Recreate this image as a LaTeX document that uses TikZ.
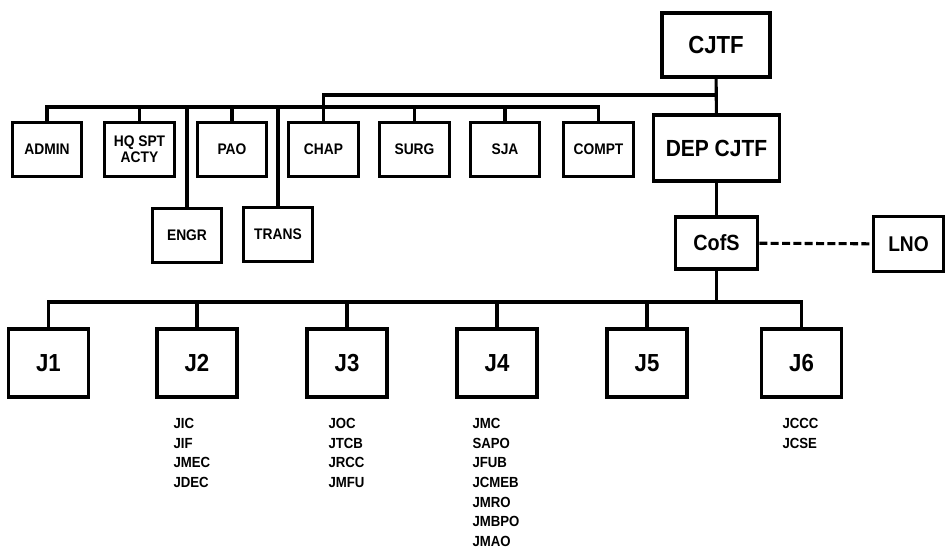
\documentclass[tikz,border=0pt]{standalone}
\usepackage{fontspec}
\setmainfont[FakeStretch=0.9]{Liberation Sans}
\usetikzlibrary{positioning}

\begin{document}
\begin{tikzpicture}[x=0.75pt,y=-0.75pt,line width=2.3pt,
  staffbox/.style={draw,inner sep=0pt,minimum width=52pt,minimum height=41pt,font=\fontsize{11.5}{12}\selectfont\bfseries,align=center},
  jbox/.style={draw,inner sep=0pt,minimum width=60pt,minimum height=51pt,font=\fontsize{18.5}{20}\selectfont\bfseries},
  jlist/.style={anchor=north west,inner sep=0pt,align=left,font=\fontsize{11}{14.7}\selectfont\bfseries}]
\useasboundingbox (0,0) rectangle (948,550);
% command group
\node[draw,inner sep=0pt,minimum width=81pt,minimum height=48pt,font=\fontsize{18.5}{20}\selectfont\bfseries] (cjtf) at (716,45) {CJTF};
\node[draw,inner sep=0pt,minimum width=95pt,minimum height=49.5pt,font=\fontsize{17.5}{20}\selectfont\bfseries] (dep) at (716.5,148) {DEP CJTF};
\node[draw,inner sep=0pt,minimum width=62pt,minimum height=39pt,font=\fontsize{16.5}{20}\selectfont\bfseries] (cofs) at (716.5,243) {CofS};
\node[draw,inner sep=0pt,minimum width=53pt,minimum height=41pt,font=\fontsize{16}{20}\selectfont\bfseries] (lno) at (908.5,244) {LNO};
% special staff
\node[staffbox] (admin) at (47,149.5) {ADMIN};
\node[staffbox] (hqspt) at (139.5,149.5) {HQ SPT\\ACTY};
\node[staffbox] (pao) at (232,149.5) {PAO};
\node[staffbox] (chap) at (323.5,149.5) {CHAP};
\node[staffbox] (surg) at (414.5,149.5) {SURG};
\node[staffbox] (sja) at (505,149.5) {SJA};
\node[staffbox] (compt) at (598.5,149.5) {COMPT};
\node[staffbox] (engr) at (187,235.5) {ENGR};
\node[staffbox] (trans) at (278,234.5) {TRANS};
% joint staff
\node[jbox] (j1) at (48.5,363) {J1};
\node[jbox] (j2) at (197,363) {J2};
\node[jbox] (j3) at (347,363) {J3};
\node[jbox] (j4) at (497,363) {J4};
\node[jbox] (j5) at (647,363) {J5};
\node[jbox] (j6) at (801.5,363) {J6};
\node[jlist] (j2list) at (172,417) {JIC\\JIF\\JMEC\\JDEC};
\node[jlist] (j3list) at (327,417) {JOC\\JTCB\\JRCC\\JMFU};
\node[jlist] (j4list) at (471,417) {JMC\\SAPO\\JFUB\\JCMEB\\JMRO\\JMBPO\\JMAO};
\node[jlist] (j6list) at (781,417) {JCCC\\JCSE};
% buses
\coordinate (topbus) at (0,95);
\coordinate (staffbus) at (0,107);
\coordinate (jbus) at (0,302);
\draw (cjtf) -- (dep);
\draw (dep) -- (cofs);
\draw[dash pattern=on 6pt off 2.5pt] (cofs) -- (lno);
\draw (cjtf.south |- topbus) -| (chap.north);
\draw (admin.north) -- (admin.north |- staffbus) -| (compt.north);
\foreach \s in {hqspt,pao,surg,sja,engr,trans}
  \draw (\s.north) -- (\s.north |- staffbus);
\draw (cofs) -- (cofs.south |- jbus);
\draw (j1.north) -- (j1.north |- jbus) -| (j6.north);
\foreach \j in {j2,j3,j4,j5}
  \draw (\j.north) -- (\j.north |- jbus);
\end{tikzpicture}
\end{document}
